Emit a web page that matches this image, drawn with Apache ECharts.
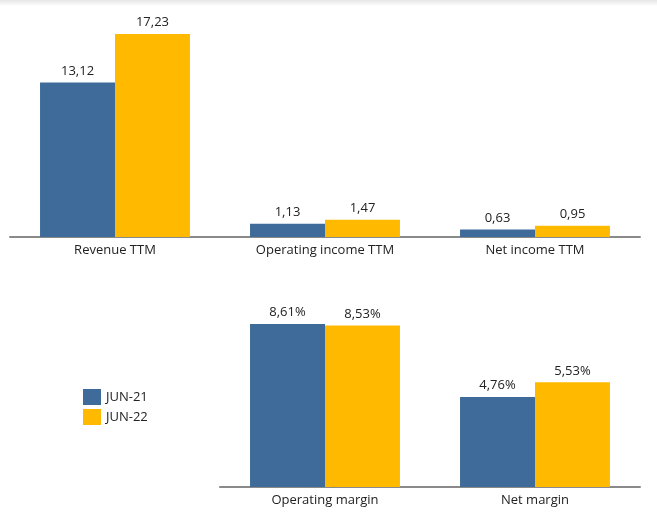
<!DOCTYPE html>
<html><head><meta charset="utf-8">
<script src="https://cdn.jsdelivr.net/npm/echarts@6/dist/echarts.min.js"></script>
<style>html,body{margin:0;padding:0;background:#fff}#c{width:657px;height:520px}</style>
</head><body><div id="c"></div>
<script>
const topCategories = ['Revenue TTM', 'Operating income TTM', 'Net income TTM'];
const topJun21 = [13.12, 1.13, 0.63];
const topJun22 = [17.23, 1.47, 0.95];
const bottomCategories = ['Operating margin', 'Net margin'];
const bottomJun21 = [8.61, 4.76];
const bottomJun22 = [8.53, 5.53];
const seriesNames = ['JUN-21', 'JUN-22'];
const colors = ['#3E6B99', '#FFBA00'];

const font = '"Open Sans", sans-serif';
const fmtNum = p => p.value.toFixed(2).replace('.', ',');
const fmtPct = p => p.value.toFixed(2).replace('.', ',') + '%';

function bar(name, data, idx, color, fmt) {
  return {
    name, type: 'bar', data, xAxisIndex: idx, yAxisIndex: idx,
    barGap: '0%', barCategoryGap: '28.6%',
    itemStyle: { color },
    label: { show: true, position: 'top', distance: 5, formatter: fmt,
      color: '#222', fontSize: 13, fontFamily: font },
    animation: false
  };
}

const chart = echarts.init(document.getElementById('c'));
chart.setOption({
  animation: false,
  graphic: [{
    type: 'rect', shape: { x: 0, y: 0, width: 657, height: 6 },
    style: { fill: new echarts.graphic.LinearGradient(0, 0, 0, 1, [
      { offset: 0, color: '#e6e6e6' }, { offset: 1, color: '#ffffff' }]) }
  }],
  legend: {
    orient: 'vertical', left: 78, top: 384, itemWidth: 18, itemHeight: 16, itemGap: 4,
    icon: 'rect', data: seriesNames,
    textStyle: { color: '#222', fontSize: 13, fontFamily: font }
  },
  grid: [
    { left: 10, right: 17, top: 34, height: 203 },
    { left: 220, right: 17, top: 324, height: 163 }
  ],
  xAxis: [
    { type: 'category', data: topCategories, gridIndex: 0,
      axisLine: { lineStyle: { color: '#8a8a8a', width: 2 } }, axisTick: { show: false },
      axisLabel: { color: '#222', fontSize: 13, fontFamily: font, margin: 7 } },
    { type: 'category', data: bottomCategories, gridIndex: 1,
      axisLine: { lineStyle: { color: '#8a8a8a', width: 2 } }, axisTick: { show: false },
      axisLabel: { color: '#222', fontSize: 13, fontFamily: font, margin: 7 } }
  ],
  yAxis: [
    { type: 'value', gridIndex: 0, min: 0, max: 17.23, show: false, splitLine: { show: false } },
    { type: 'value', gridIndex: 1, min: 0, max: 8.61, show: false, splitLine: { show: false } }
  ],
  series: [
    bar(seriesNames[0], topJun21, 0, colors[0], fmtNum),
    bar(seriesNames[1], topJun22, 0, colors[1], fmtNum),
    bar(seriesNames[0], bottomJun21, 1, colors[0], fmtPct),
    bar(seriesNames[1], bottomJun22, 1, colors[1], fmtPct)
  ]
});
</script></body></html>
